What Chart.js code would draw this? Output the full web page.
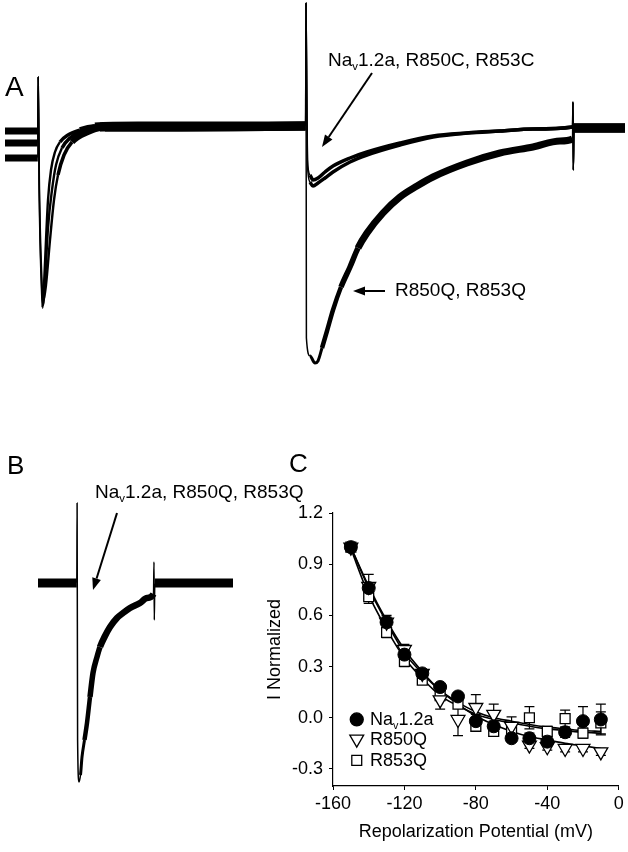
<!DOCTYPE html>
<html>
<head>
<meta charset="utf-8">
<script src="https://cdn.jsdelivr.net/npm/chart.js@4.4.1/dist/chart.umd.min.js"></script>
<style>
  body { margin: 0; background: #fff; width: 628px; height: 852px; position: relative; overflow: hidden;
         font-family: "Liberation Sans", Arial, sans-serif; color: #000; }
  canvas { position: absolute; }
  #chartA { left: 0; top: 0; }
  #chartB { left: 0; top: 440px; }
  #chartC { left: 260px; top: 440px; }
  .lbl { position: absolute; line-height: 1; white-space: nowrap; }
  .v { font-size: 0.6em; position: relative; top: 0.35em; }
</style>
</head>
<body>
<canvas id="chartA" width="628" height="380"></canvas>
<canvas id="chartB" width="260" height="412"></canvas>
<canvas id="chartC" width="368" height="412"></canvas>

<div class="lbl" style="left:5px;top:73px;font-size:28px;">A</div>
<div class="lbl" style="left:7px;top:452px;font-size:26px;">B</div>
<div class="lbl" style="left:289px;top:450px;font-size:26px;">C</div>

<div class="lbl" style="left:328px;top:50px;font-size:19px;">Na<span class="v">v</span>1.2a, R850C, R853C</div>
<div class="lbl" style="left:395px;top:280px;font-size:19px;">R850Q, R853Q</div>
<div class="lbl" style="left:95px;top:482px;font-size:19px;">Na<span class="v">v</span>1.2a, R850Q, R853Q</div>

<div class="lbl" style="left:370px;top:710px;font-size:18px;">Na<span class="v">v</span>1.2a</div>
<div class="lbl" style="left:370px;top:730px;font-size:18px;">R850Q</div>
<div class="lbl" style="left:370px;top:751px;font-size:18px;">R853Q</div>

<script>
// Panel A: current traces, time in ms, current in nA
const tA1 = [-3.3, -0.02, 0.02, 0.1, 0.35, 0.45, 0.6, 0.8, 1.0, 1.3, 1.7, 2.2, 3.0, 4.2, 5.7, 10, 15, 20, 26.76,
             26.8, 26.95, 27.2, 27.5, 28.0, 28.7, 29.5, 31.2, 32.9, 36.2, 39.5, 42.9, 46.2, 49.5, 53.45, 53.5, 53.53, 53.6, 58.7];
const iA1 = [-0.03, -0.03, 0.51, -0.52, -1.62, -1.80, -1.57, -1.12, -0.72, -0.42, -0.24, -0.14, -0.07, -0.02, 0.01, 0.02, 0.02, 0.02, 0.02,
             1.25, -0.32, -0.47, -0.52, -0.50, -0.44, -0.38, -0.30, -0.24, -0.15, -0.08, -0.05, -0.03, -0.01, 0.01, 0.26, -0.42, 0.0, 0.0];

const tA2 = [-3.3, -0.02, 0.02, 0.12, 0.4, 0.5, 0.7, 1.0, 1.4, 1.8, 2.4, 3.2, 4.7, 6.2, 26.76,
             26.8, 26.95, 27.2, 27.5, 28.0, 28.7, 29.5, 31.2, 32.9, 36.2, 39.5, 42.9, 46.2, 49.5, 53.45, 53.5, 53.53, 53.6, 58.7];
const iA2 = [-0.15, -0.15, 0.51, -0.57, -1.67, -1.77, -1.54, -1.00, -0.62, -0.37, -0.20, -0.10, -0.02, 0.01, 0.02,
             1.25, -0.37, -0.54, -0.58, -0.55, -0.50, -0.44, -0.34, -0.27, -0.17, -0.09, -0.05, -0.03, -0.01, 0.01, 0.26, -0.42, 0.0, 0.0];

const tA3 = [-3.3, -0.02, 0.02, 0.15, 0.45, 0.55, 0.8, 1.2, 1.6, 2.0, 2.6, 3.4, 5.0, 6.7, 26.76,
             26.8, 26.84, 27.2, 27.7, 28.0, 28.4, 28.9, 29.5, 30.3, 31.2, 32.0, 32.9, 34.5, 36.2, 37.9, 39.5, 42.9, 46.2, 49.5, 52.2, 53.45,
             53.5, 53.53, 53.6, 58.7];
const iA3 = [-0.30, -0.30, 0.51, -0.62, -1.64, -1.72, -1.57, -1.12, -0.72, -0.47, -0.27, -0.14, -0.04, 0.01, 0.02,
             1.25, -2.10, -2.28, -2.35, -2.33, -2.20, -2.03, -1.82, -1.59, -1.39, -1.20, -1.05, -0.85, -0.69, -0.58, -0.49, -0.35, -0.25, -0.19, -0.13, -0.11,
             0.26, -0.42, 0.0, 0.0];

// Panel B: single trace
const tB = [-3.9, -0.02, 0.01, 0.06, 0.2, 0.35, 0.5, 0.75, 1.0, 1.3, 1.6, 2.0, 2.3, 2.8, 3.3, 4.0, 4.6, 5.3, 6.3, 7.0, 7.65, 7.7, 7.73, 7.78, 15.6];
const iB = [0, 0, 0.80, -1.57, -1.99, -1.92, -1.74, -1.57, -1.40, -1.14, -0.90, -0.74, -0.64, -0.53, -0.44, -0.35, -0.30, -0.25, -0.20, -0.15, -0.11, 0.21, -0.37, 0, 0];

// Panel C: normalized current vs repolarization potential
const voltages = [-150, -140, -130, -120, -110, -100, -90, -80, -70, -60, -50, -40, -30, -20, -10];
const navWT    = [1.0, 0.76, 0.56, 0.37, 0.26, 0.18, 0.125, -0.02, -0.05, -0.12, -0.12, -0.14, -0.085, -0.02, -0.01];
const navWTErr = [0.01, 0.03, 0.03, 0.03, 0.02, 0.02, 0.02, 0.04, 0.03, 0.02, 0.03, 0.02, 0.03, 0.085, 0.09];
const r850Q    = [1.0, 0.77, 0.56, 0.40, 0.26, 0.105, -0.01, 0.06, 0.02, -0.05, -0.16, -0.17, -0.18, -0.18, -0.20];
const r850QErr = [0.01, 0.07, 0.04, 0.03, 0.02, 0.055, 0.095, 0.075, 0.06, 0.055, 0.02, 0.02, 0.02, 0.02, 0.02];
const r853Q    = [1.0, 0.71, 0.50, 0.33, 0.22, 0.13, 0.08, -0.05, -0.08, -0.07, 0.0, -0.08, -0.005, -0.09, -0.03];
const r853QErr = [0.01, 0.04, 0.03, 0.03, 0.02, 0.02, 0.02, 0.03, 0.03, 0.02, 0.065, 0.03, 0.05, 0.03, 0.065];
const fitUpperA = [1.0, 0.76, 0.56, 0.38, 0.26, 0.16, 0.09, 0.035, 0.0, -0.02, -0.04, -0.055, -0.065, -0.075, -0.08];
const fitUpperB = [0.99, 0.72, 0.52, 0.35, 0.23, 0.13, 0.07, 0.02, -0.01, -0.03, -0.05, -0.065, -0.075, -0.085, -0.09];
const fitLower  = [1.0, 0.77, 0.57, 0.40, 0.27, 0.16, 0.08, 0.01, -0.04, -0.08, -0.11, -0.13, -0.15, -0.165, -0.18];
const yTicksC = [-0.3, 0, 0.3, 0.6, 0.9, 1.2];

// annotation arrows, in data units of each panel
const arrowsA = [{ from: [33.4, 0.55], to: [28.4, -0.19] }, { from: [34.7, -1.63], to: [31.5, -1.63] }];
const arrowsB = [{ from: [4.0, 0.70], to: [1.6, -0.07] }];
const legendC = [
  { x: -146.7, y: -0.01, style: 'circle', radius: 6.5, fill: '#000', rot: 0 },
  { x: -146.7, y: -0.125, style: 'triangle', radius: 8, fill: '#fff', rot: 180 },
  { x: -146.7, y: -0.25, style: 'rect', radius: 7, fill: '#fff', rot: 0 }
];

const pts = (xs, ys) => xs.map((x, i) => ({ x: x, y: ys[i] }));

Chart.defaults.font.family = "'Liberation Sans', Arial, sans-serif";
Chart.defaults.font.size = 18;
Chart.defaults.color = '#000';
Chart.defaults.animation = false;

// line width by time (segment midpoint): noisy parts are drawn as thick bands
function widthA(trace, t) {
  if (t < -0.01) return 7;
  if (t < 0.5) return 1.5;
  if (t < 2.2) return 2.4;
  if (t < 4) return 3.5;
  if (t < 6) return 6;
  if (t < 26.75) return 9;
  if (t < 27.3) return 1.5;
  if (t < 53.45) {
    if (trace !== 2) return 3.5;
    if (t < 28.4) return 3;
    if (t < 30) return 4.5;
    if (t < 32) return 5.5;
    return 7;
  }
  if (t < 53.62) return 1.5;
  return 9;
}

function widthB(t) {
  if (t < -0.01) return 9;
  if (t < 0.3) return 1.5;
  if (t < 0.8) return 3;
  if (t < 1.4) return 4.5;
  if (t < 2.5) return 5.5;
  if (t < 7.65) return 6.5;
  if (t < 7.8) return 1.5;
  return 9;
}

function traceSet(data, widthFn) {
  return {
    data: data,
    borderColor: '#000',
    pointRadius: 0,
    borderJoinStyle: 'round',
    borderCapStyle: 'butt',
    cubicInterpolationMode: 'monotone',
    segment: { borderWidth: ctx => widthFn((ctx.p0.parsed.x + ctx.p1.parsed.x) / 2) }
  };
}

function arrowPlugin(arrows) {
  return {
    id: 'arrows',
    afterDatasetsDraw(chart) {
      const ctx = chart.ctx, xs = chart.scales.x, ys = chart.scales.y;
      ctx.save();
      ctx.strokeStyle = '#000';
      ctx.fillStyle = '#000';
      ctx.lineWidth = 2;
      arrows.forEach(a => {
        const x0 = xs.getPixelForValue(a.from[0]), y0 = ys.getPixelForValue(a.from[1]);
        const x1 = xs.getPixelForValue(a.to[0]), y1 = ys.getPixelForValue(a.to[1]);
        const ang = Math.atan2(y1 - y0, x1 - x0);
        const len = 12, half = 4.5;
        const bx = x1 - Math.cos(ang) * len, by = y1 - Math.sin(ang) * len;
        ctx.beginPath();
        ctx.moveTo(x0, y0);
        ctx.lineTo(bx, by);
        ctx.stroke();
        ctx.beginPath();
        ctx.moveTo(x1, y1);
        ctx.lineTo(bx + Math.sin(ang) * half, by - Math.cos(ang) * half);
        ctx.lineTo(bx - Math.sin(ang) * half, by + Math.cos(ang) * half);
        ctx.closePath();
        ctx.fill();
      });
      ctx.restore();
    }
  };
}

const hiddenScales = (xmin, xmax, ymin, ymax) => ({
  x: { type: 'linear', display: false, min: xmin, max: xmax },
  y: { type: 'linear', display: false, min: ymin, max: ymax }
});

new Chart(document.getElementById('chartA'), {
  type: 'line',
  data: {
    datasets: [
      traceSet(pts(tA1, iA1), t => widthA(0, t)),
      traceSet(pts(tA2, iA2), t => widthA(1, t)),
      traceSet(pts(tA3, iA3), t => widthA(2, t))
    ]
  },
  options: {
    responsive: false,
    layout: { padding: 0 },
    scales: hiddenScales(-3.8, 59.0, -2.52, 1.28),
    plugins: { legend: { display: false }, tooltip: { enabled: false } }
  },
  plugins: [arrowPlugin(arrowsA)]
});

new Chart(document.getElementById('chartB'), {
  type: 'line',
  data: { datasets: [traceSet(pts(tB, iB), widthB)] },
  options: {
    responsive: false,
    layout: { padding: 0 },
    scales: hiddenScales(-7.7, 18.3, -2.69, 1.43),
    plugins: { legend: { display: false }, tooltip: { enabled: false } }
  },
  plugins: [arrowPlugin(arrowsB)]
});

const errorBars = {
  id: 'errorBars',
  beforeDatasetsDraw(chart) {
    const ctx = chart.ctx, ys = chart.scales.y;
    ctx.save();
    ctx.strokeStyle = '#000';
    ctx.lineWidth = 1.2;
    chart.data.datasets.forEach((ds, i) => {
      if (!ds.errors) return;
      chart.getDatasetMeta(i).data.forEach((pt, j) => {
        const v = ds.data[j].y, e = ds.errors[j];
        const top = ys.getPixelForValue(v + e), bot = ys.getPixelForValue(v - e);
        ctx.beginPath();
        ctx.moveTo(pt.x, top); ctx.lineTo(pt.x, bot);
        ctx.moveTo(pt.x - 5, top); ctx.lineTo(pt.x + 5, top);
        ctx.moveTo(pt.x - 5, bot); ctx.lineTo(pt.x + 5, bot);
        ctx.stroke();
      });
    });
    ctx.restore();
  }
};

const legendSymbols = {
  id: 'legendSymbols',
  afterDraw(chart) {
    const ctx = chart.ctx, xs = chart.scales.x, ys = chart.scales.y;
    ctx.save();
    ctx.strokeStyle = '#000';
    ctx.lineWidth = 1.3;
    legendC.forEach(s => {
      ctx.fillStyle = s.fill;
      Chart.helpers.drawPoint(ctx, { pointStyle: s.style, radius: s.radius, rotation: s.rot, borderWidth: 1.3 },
        xs.getPixelForValue(s.x), ys.getPixelForValue(s.y));
    });
    ctx.restore();
  }
};

const fitSet = ys => ({
  type: 'line',
  data: pts(voltages, ys),
  borderColor: '#000',
  borderWidth: 1.6,
  pointRadius: 0,
  showLine: true,
  fill: false,
  cubicInterpolationMode: 'monotone',
  order: 5
});

new Chart(document.getElementById('chartC'), {
  type: 'scatter',
  data: {
    datasets: [
      { data: pts(voltages, navWT), errors: navWTErr, pointStyle: 'circle', pointRadius: 6.5,
        backgroundColor: '#000', borderColor: '#000', borderWidth: 1, order: 1 },
      { data: pts(voltages, r850Q), errors: r850QErr, pointStyle: 'triangle', pointRotation: 180, pointRadius: 8,
        backgroundColor: '#fff', borderColor: '#000', borderWidth: 1.3, order: 2 },
      { data: pts(voltages, r853Q), errors: r853QErr, pointStyle: 'rect', pointRadius: 7,
        backgroundColor: '#fff', borderColor: '#000', borderWidth: 1.3, order: 3 },
      fitSet(fitUpperA),
      fitSet(fitUpperB),
      fitSet(fitLower)
    ]
  },
  options: {
    responsive: false,
    layout: { padding: { top: 73, right: 7, left: 0, bottom: 0 } },
    scales: {
      x: {
        type: 'linear', min: -160, max: 0,
        ticks: { stepSize: 40, padding: 3 },
        grid: { drawOnChartArea: false, tickLength: 4, color: '#000' },
        border: { color: '#000', width: 1.2 },
        title: { display: true, text: 'Repolarization Potential (mV)', padding: { top: 4, bottom: 9 } },
        afterFit: s => { s.height = 66; }
      },
      y: {
        type: 'linear', min: -0.4, max: 1.2,
        afterBuildTicks: s => { s.ticks = yTicksC.map(v => ({ value: v })); },
        ticks: { padding: 6, callback: v => Number(v).toFixed(1) },
        grid: { drawOnChartArea: false, tickLength: 4, color: '#000' },
        border: { color: '#000', width: 1.2 },
        title: { display: true, text: 'I Normalized', padding: { top: 4, bottom: 4 } },
        afterFit: s => { s.width = 73; }
      }
    },
    plugins: { legend: { display: false }, tooltip: { enabled: false } }
  },
  plugins: [errorBars, legendSymbols]
});
</script>
</body>
</html>
